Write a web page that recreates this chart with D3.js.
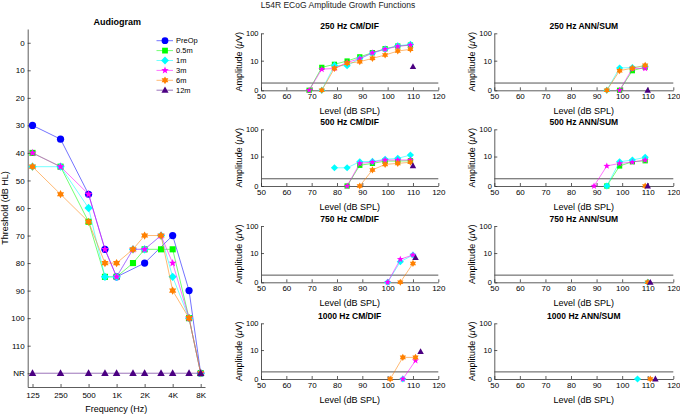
<!DOCTYPE html>
<html><head><meta charset="utf-8">
<script src="https://cdn.jsdelivr.net/npm/d3@7"></script>
<style>
body{margin:0;background:#fff}
svg{display:block}
text{font-family:"Liberation Sans",Arial,sans-serif;fill:#000}
</style>
</head><body>
<svg id="c" width="680" height="414"></svg>
<script>
// ---------------- DATA ----------------
const seriesNames = ["PreOp", "0.5m", "1m", "3m", "6m", "12m"];
const seriesColors = ["#0000ff", "#00ff00", "#00ffff", "#ff00ff", "#ff8000", "#4b0082"];
const seriesShapes = ["circle", "square", "diamond", "star", "hexagram", "triangle"];

// Audiogram (threshold dB HL, 120 = NR, null = not tested)
const audFreqs = [125, 250, 500, 750, 1000, 1500, 2000, 3000, 4000, 6000, 8000];
const audPreOp = [30, 35, 55, 75, 85, null, 80, null, 70, 90, 120];
const aud05m   = [40, 45, 65, 85, 85, 80, 75, 75, 75, 100, 120];
const aud1m    = [45, 45, 60, 85, 85, 75, 75, 70, 85, 100, 120];
const aud3m    = [40, 45, 55, 75, 85, 75, 75, 70, 80, 100, 120];
const aud6m    = [45, 55, 65, 80, 80, 75, 70, 70, 90, 100, 120];
const aud12m   = [120, 120, 120, 120, 120, 120, 120, 120, 120, 120, 120];
const audFreqTicks = [125, 250, 500, 1000, 2000, 4000, 8000];
const audFreqTickLabels = ["125", "250", "500", "1K", "2K", "4K", "8K"];
const audDbTicks = [0, 10, 20, 30, 40, 50, 60, 70, 80, 90, 100, 110, 120];
const audDbTickLabels = ["0", "10", "20", "30", "40", "50", "60", "70", "80", "90", "100", "110", "NR"];

// ECoG amplitude growth ([level dB SPL, amplitude uV]) per panel, per series (0.5m,1m,3m,6m,12m)
const cm250_05m = [[69,0],[74,5.4],[79,7.2],[84,9.7],[89,14],[94,20],[99,28],[104,35],[109,38]];
const cm250_1m  = [[74,0],[79,6.5],[84,6.3],[89,12],[94,19],[99,27],[104,36],[109,40]];
const cm250_3m  = [[69,0],[74,4.5],[79,4.9],[84,8.5],[89,12],[94,20],[99,27],[104,34],[109,38]];
const cm250_6m  = [[74,0],[79,4.9],[84,7.9],[89,9.1],[94,12.3],[99,16.4],[104,23],[109,26.6]];
const cm250_12m = [[110,5.8]];

const an250_05m = [[99,0],[104,3.9],[109,5.5]];
const an250_1m  = [[94,0],[99,5.1],[104,5.3],[109,6]];
const an250_3m  = [[99,0],[104,4.8],[109,4.9]];
const an250_6m  = [[94,0],[99,3.9],[104,5],[109,6.6]];
const an250_12m = [[110,0]];

const cm500_05m = [[84,0],[89,4.4],[94,5.3],[99,6.6],[104,6.6],[109,6.8]];
const cm500_1m  = [[79,3.4],[84,3.4],[89,6.2],[94,6.4],[99,7.8],[104,8.5],[109,11.4]];
const cm500_3m  = [[84,0],[89,5.3],[94,6.0],[99,7.3],[104,7.3],[109,7.3]];
const cm500_6m  = [[89,0],[94,2.7],[99,4.8],[104,5.3],[109,5.9]];
const cm500_12m = [[110,4.2]];

const an500_05m = [[94,0],[99,4.1],[104,6.2],[109,6.8]];
const an500_1m  = [[94,0],[99,6.2],[104,7.3],[109,9.3]];
const an500_3m  = [[89,0],[94,4.1],[99,5.3],[104,6.0],[109,7.3]];
const an500_6m  = [[109,0]];
const an500_12m = [[110,0]];

const cm750_05m = [];
const cm750_1m  = [[100,0],[105,4.4],[110,8.4]];
const cm750_3m  = [[100,0],[105,5.6],[110,8.4]];
const cm750_6m  = [[105,0],[110,3.7]];
const cm750_12m = [[111,6.5]];

const an750_05m = [];
const an750_1m  = [[110,0]];
const an750_3m  = [];
const an750_6m  = [[110,0]];
const an750_12m = [[111,0]];

const cm1000_05m = [];
const cm1000_1m  = [[106,0]];
const cm1000_3m  = [[106,0],[111,3.6]];
const cm1000_6m  = [[101,0],[106,5.0],[111,5.0]];
const cm1000_12m = [[113,8.6]];

const an1000_05m = [];
const an1000_1m  = [[106,0]];
const an1000_3m  = [];
const an1000_6m  = [[111,0]];
const an1000_12m = [[113,0]];

const panelTitles = ["250 Hz CM/DIF", "250 Hz ANN/SUM", "500 Hz CM/DIF", "500 Hz ANN/SUM",
                     "750 Hz CM/DIF", "750 Hz ANN/SUM", "1000 Hz CM/DIF", "1000 Hz ANN/SUM"];
const panelSeries = [
  [cm250_05m, cm250_1m, cm250_3m, cm250_6m, cm250_12m],
  [an250_05m, an250_1m, an250_3m, an250_6m, an250_12m],
  [cm500_05m, cm500_1m, cm500_3m, cm500_6m, cm500_12m],
  [an500_05m, an500_1m, an500_3m, an500_6m, an500_12m],
  [cm750_05m, cm750_1m, cm750_3m, cm750_6m, cm750_12m],
  [an750_05m, an750_1m, an750_3m, an750_6m, an750_12m],
  [cm1000_05m, cm1000_1m, cm1000_3m, cm1000_6m, cm1000_12m],
  [an1000_05m, an1000_1m, an1000_3m, an1000_6m, an1000_12m]
];
const noiseFloor = 0.8;
const levelTicks = [50, 60, 70, 80, 90, 100, 110, 120];
const ampTicks = [0, 10, 100];

// ---------------- DRAWING ----------------
const svg = d3.select("#c");
const AXC = "#333";

function markerPath(shape, r) {
  const pts = [];
  if (shape === "circle") {
    return d3.symbol(d3.symbolCircle, Math.PI * r * r)();
  }
  if (shape === "square") {
    const s = r * 0.85;
    return `M${-s},${-s}H${s}V${s}H${-s}Z`;
  }
  if (shape === "diamond") {
    const s = r * 1.15;
    return `M0,${-s}L${s},0L0,${s}L${-s},0Z`;
  }
  if (shape === "triangle") {
    const s = r * 1.1;
    return `M0,${-s}L${s * 0.95},${s * 0.7}L${-s * 0.95},${s * 0.7}Z`;
  }
  let n, ri, ro = r * 1.15;
  if (shape === "star") { n = 5; ri = ro * 0.42; }
  else { n = 6; ri = ro * 0.58; }
  for (let i = 0; i < 2 * n; i++) {
    const a = -Math.PI / 2 + i * Math.PI / n;
    const rr = i % 2 === 0 ? ro : ri;
    pts.push([rr * Math.cos(a), rr * Math.sin(a)]);
  }
  return "M" + pts.map(p => p[0].toFixed(2) + "," + p[1].toFixed(2)).join("L") + "Z";
}

function styleAxis(g) {
  g.selectAll("path.domain").attr("stroke", AXC).attr("stroke-width", 0.8);
  g.selectAll(".tick line").attr("stroke", AXC).attr("stroke-width", 0.8);
  g.selectAll(".tick text").attr("fill", "#000").style("font-family", '"Liberation Sans",Arial,sans-serif');
}

// ----- Suptitle
svg.append("text").attr("x", 338).attr("y", 8).attr("text-anchor", "middle")
  .attr("font-size", 8.5).style("fill", "#222").text("L54R ECoG Amplitude Growth Functions");

// ----- Audiogram
(function () {
  const x0 = 27.7, x1 = 205, y0 = 29, y1 = 387;
  const x = d3.scaleLog().domain([111, 8900]).range([x0, x1]);
  const y = d3.scaleLinear().domain([-5, 125]).range([y0, y1]);
  const g = svg.append("g");

  const gx = g.append("g").attr("transform", `translate(0,${y1})`)
    .call(d3.axisBottom(x).tickValues(audFreqTicks).tickFormat((d, i) => audFreqTickLabels[i])
      .tickSizeInner(-3).tickSizeOuter(0).tickPadding(5));
  gx.selectAll("text").attr("font-size", 8);
  styleAxis(gx);
  const gy = g.append("g").attr("transform", `translate(${x0},0)`)
    .call(d3.axisLeft(y).tickValues(audDbTicks).tickFormat((d, i) => audDbTickLabels[i])
      .tickSizeInner(-3).tickSizeOuter(0).tickPadding(3));
  gy.selectAll("text").attr("font-size", 8);
  styleAxis(gy);

  g.append("text").attr("x", (x0 + x1) / 2 + 1).attr("y", 25).attr("text-anchor", "middle")
    .attr("font-size", 9).attr("font-weight", "bold").text("Audiogram");
  g.append("text").attr("x", (x0 + x1) / 2).attr("y", 411.5).attr("text-anchor", "middle")
    .attr("font-size", 9).text("Frequency (Hz)");
  g.append("text").attr("transform", `translate(8,${(y0 + y1) / 2}) rotate(-90)`)
    .attr("text-anchor", "middle").attr("font-size", 9).text("Threshold (dB HL)");

  const audSeries = [audPreOp, aud05m, aud1m, aud3m, aud6m, aud12m];
  const line = d3.line().x(d => x(d[0])).y(d => y(d[1]));
  audSeries.forEach((vals, si) => {
    const pts = audFreqs.map((f, i) => [f, vals[i]]).filter(d => d[1] !== null);
    g.append("path").attr("d", line(pts)).attr("fill", "none")
      .attr("stroke", seriesColors[si]).attr("stroke-opacity", 0.55).attr("stroke-width", 1);
    g.selectAll(null).data(pts).enter().append("path")
      .attr("d", markerPath(seriesShapes[si], 3.6))
      .attr("transform", d => `translate(${x(d[0])},${y(d[1])})`)
      .attr("fill", seriesColors[si]);
  });

  // Legend
  const lg = g.append("g");
  seriesNames.forEach((name, i) => {
    const ly = 40.7 + i * 9.9;
    lg.append("line").attr("x1", 156.5).attr("x2", 173).attr("y1", ly).attr("y2", ly)
      .attr("stroke", seriesColors[i]).attr("stroke-opacity", 0.55).attr("stroke-width", 1);
    lg.append("path").attr("d", markerPath(seriesShapes[i], 3.4))
      .attr("transform", `translate(165,${ly})`).attr("fill", seriesColors[i]);
    lg.append("text").attr("x", 176).attr("y", ly + 2.7).attr("font-size", 7.5).text(name);
  });
})();

// ----- Amplitude growth panels
const colX = [[261, 438.3], [494.3, 673.3]];
const rowY = [[33.3, 90.3], [129.3, 186], [226, 282.3], [323.3, 379]];

panelTitles.forEach((title, pi) => {
  const col = pi % 2, row = Math.floor(pi / 2);
  const [x0, x1] = colX[col], [y0, y1] = rowY[row];
  const x = d3.scaleLinear().domain([50, 120]).range([x0, x1]);
  const y = d3.scaleSymlog().constant(1).domain([0, 100]).range([y1, y0]);
  const g = svg.append("g");

  const gx = g.append("g").attr("transform", `translate(0,${y1})`)
    .call(d3.axisBottom(x).tickValues(levelTicks).tickFormat(d3.format("d"))
      .tickSizeInner(-3).tickSizeOuter(0).tickPadding(3.5));
  gx.selectAll("text").attr("font-size", 8);
  styleAxis(gx);
  const gy = g.append("g").attr("transform", `translate(${x0},0)`)
    .call(d3.axisLeft(y).tickValues(ampTicks).tickFormat(d3.format("d"))
      .tickSizeInner(-3).tickSizeOuter(0).tickPadding(2.5));
  gy.selectAll("text").attr("font-size", 7.5);
  styleAxis(gy);

  // noise floor line
  g.append("line").attr("x1", x(50)).attr("x2", x(120)).attr("y1", y(noiseFloor)).attr("y2", y(noiseFloor))
    .attr("stroke", "#555").attr("stroke-width", 1);

  g.append("text").attr("x", (x0 + x1) / 2).attr("y", y0 - 4.5).attr("text-anchor", "middle")
    .attr("font-size", 8.5).attr("font-weight", "bold").text(title);
  g.append("text").attr("x", (x0 + x1) / 2).attr("y", y1 + 24).attr("text-anchor", "middle")
    .attr("font-size", 9).text("Level (dB SPL)");
  const yl = g.append("text").attr("transform", `translate(${x0 - 19.5},${(y0 + y1) / 2}) rotate(-90)`)
    .attr("text-anchor", "middle").attr("font-size", 9);
  yl.append("tspan").text("Amplitude (");
  yl.append("tspan").attr("font-style", "italic").text("\u03BC");
  yl.append("tspan").text("V)");

  const line = d3.line().x(d => x(d[0])).y(d => y(d[1]));
  panelSeries[pi].forEach((pts, k) => {
    const si = k + 1;
    if (!pts.length) return;
    if (pts.length > 1) {
      g.append("path").attr("d", line(pts)).attr("fill", "none")
        .attr("stroke", seriesColors[si]).attr("stroke-opacity", 0.55).attr("stroke-width", 1);
    }
    g.selectAll(null).data(pts).enter().append("path")
      .attr("d", markerPath(seriesShapes[si], 3.1))
      .attr("transform", d => `translate(${x(d[0])},${y(d[1])})`)
      .attr("fill", seriesColors[si]);
  });
});
</script>
</body></html>
